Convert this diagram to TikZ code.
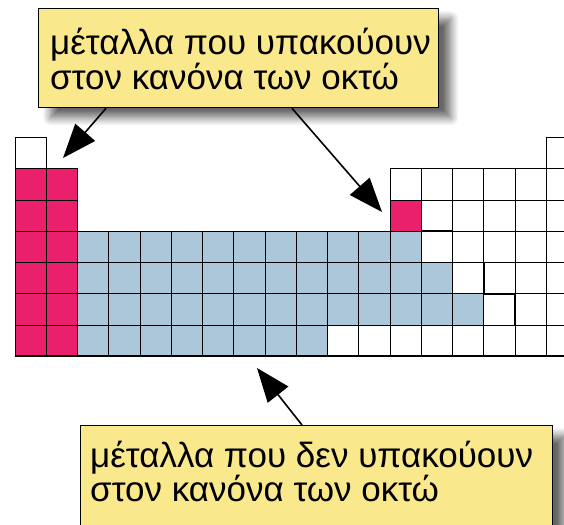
\documentclass[tikz,border=0pt]{standalone}
\usepackage{fontspec}
\setmainfont{Liberation Sans}
\usetikzlibrary{arrows.meta,shadows.blur}
\definecolor{sblock}{RGB}{234,32,108}
\definecolor{tmetal}{RGB}{172,198,218}
\definecolor{notepaper}{RGB}{250,232,140}
\newcommand{\cs}{31.25}
% one square of the table: column, row, fill
\newcommand{\pcell}[3]{%
  \draw[cell,fill=#3] ({15+(#1-1)*\cs},{137.5+(#2-1)*\cs}) rectangle ++(\cs,\cs);}
\tikzset{
  cell/.style={draw=black,line width=1pt},
  notebox/.style={draw=black,line width=1.3pt,fill=notepaper,rectangle,
    inner sep=0pt,anchor=north west,
    blur shadow={shadow xshift=12pt,shadow yshift=-10pt,shadow blur radius=8pt,
      shadow opacity=60,shadow blur steps=10}},
  notetext/.style={anchor=base west,inner sep=0pt,font=\fontsize{35}{38}\selectfont},
  pointer/.style={line width=1.6pt,arrows={-Triangle[length=34pt,width=26pt]}}
}
\begin{document}
\begin{tikzpicture}[x=1pt,y=-1pt]
\useasboundingbox (0,0) rectangle (564,524);

% s-block and the first column
\pcell{1}{1}{white}
\foreach \r in {2,...,7}{\foreach \c in {1,2}{\pcell{\c}{\r}{sblock}}}
% p-block, white squares
\pcell{18}{1}{white}
\foreach \c in {13,...,18}{\pcell{\c}{2}{white}}
\foreach \c in {14,...,18}{\pcell{\c}{3}{white}}
\pcell{13}{3}{sblock}
\foreach \c in {14,...,18}{\pcell{\c}{4}{white}}
\foreach \c in {15,...,18}{\pcell{\c}{5}{white}}
\foreach \c in {16,...,18}{\pcell{\c}{6}{white}}
\foreach \c in {11,...,18}{\pcell{\c}{7}{white}}
% metals that do not follow the octet rule
\foreach \c in {3,...,13}{\pcell{\c}{4}{tmetal}}
\foreach \c in {3,...,14}{\pcell{\c}{5}{tmetal}}
\foreach \c in {3,...,15}{\pcell{\c}{6}{tmetal}}
\foreach \c in {3,...,10}{\pcell{\c}{7}{tmetal}}

% metal / non-metal staircase and bottom edge
\draw[line width=1.8pt] (421.25,231.25) -- (452.5,231.25) -- (452.5,262.5)
  -- (483.75,262.5) -- (483.75,293.75) -- (515,293.75) -- (515,325);
\draw[line width=1.6pt] (15,356.25) -- (564,356.25);

% notes
\node[notebox,minimum width=400pt,minimum height=99pt] (topnote) at (38,8) {};
\node[notetext] (top1) at (50,55) {μέταλλα που υπακούουν};
\node[notetext] (top2) at (50,90) {στον κανόνα των οκτώ};

\node[notebox,minimum width=472pt,minimum height=112pt] (botnote) at (80,425) {};
\node[notetext] (bot1) at (90,467) {μέταλλα που δεν υπακούουν};
\node[notetext] (bot2) at (90,501) {στον κανόνα των οκτώ};

% pointers
\coordinate (tipS) at (63,158);
\coordinate (tipAl) at (382,212);
\coordinate (tipD) at (257,368);
\draw[pointer] ([xshift=68pt]topnote.south west) -- (tipS);
\draw[pointer] ([xshift=254pt]topnote.south west) -- (tipAl);
\draw[pointer] ([xshift=222pt]botnote.north west) -- (tipD);
\end{tikzpicture}
\end{document}
